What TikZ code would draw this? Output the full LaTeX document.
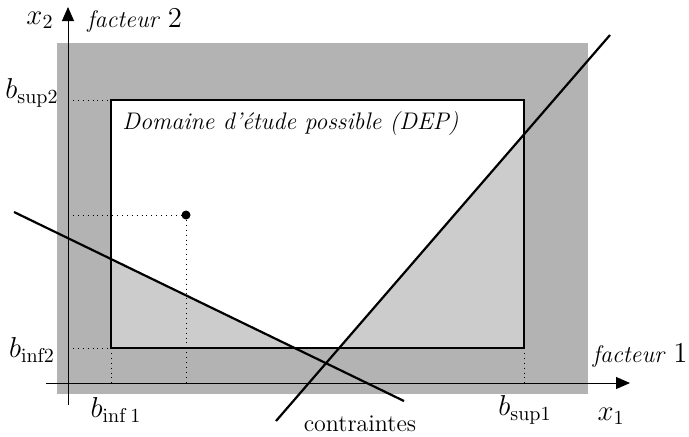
\documentclass[tikz,border=0pt]{standalone}
\usetikzlibrary{arrows.meta}
\definecolor{darkg}{HTML}{B3B3B3}
\definecolor{lightg}{HTML}{CCCCCC}
\begin{document}
\begin{tikzpicture}[x=0.5pt,y=-0.5pt,
  axis/.style={line width=0.5pt,-{Triangle[length=7pt,width=6pt]}},
  guide/.style={dotted,line width=0.45pt},
  constraint/.style={line width=1.1pt},
  lbl/.style={inner sep=0pt,font=\large},
  mlbl/.style={inner sep=0pt,font=\Large}]
\useasboundingbox (0,0) rectangle (689,436);
% background
\fill[darkg] (57,43) rectangle (588,394);
\fill[white] (111,100) rectangle (524,348);
% light regions
\fill[lightg] (111,259) -- (294.5,348) -- (111,348) -- cycle;
\fill[lightg] (339.2,348) -- (524,134.3) -- (524,348) -- cycle;
% guides
\coordinate (P) at (186,215);
\draw[guide] (68,100) -- (111,100);
\draw[guide] (68,348) -- (111,348);
\draw[guide] (68,215) -- (P);
\draw[guide] (P) -- (186,383);
\draw[guide] (111,348) -- (111,383);
\draw[guide] (524,348) -- (524,383);
% DEP rectangle
\draw[line width=1.1pt] (111,100) rectangle (524,348);
% axes
\coordinate (xs) at (46,383); \coordinate (xe) at (630,383);
\coordinate (ys) at (68,405); \coordinate (ye) at (68,7);
\draw[axis] (xs) -- (xe);
\draw[axis] (ys) -- (ye);
% constraints
\coordinate (a1) at (14,212); \coordinate (a2) at (404,401);
\coordinate (b1) at (276,421); \coordinate (b2) at (610,35);
\draw[constraint] (a1) -- (a2);
\draw[constraint] (b1) -- (b2);
% point
\fill (P) circle (4.5);
% labels
\node[mlbl] (x2) at (40,20) {$x_2$};
\node[lbl,anchor=west] (f2) at (87,20) {\textit{facteur} {\Large 2}};
\node[mlbl] (bs2) at (32,93) {$b_{\mathrm{sup2}}$};
\node[mlbl] (bi2) at (32,350) {$b_{\mathrm{inf2}}$};
\node[mlbl] (bi1) at (116,410) {$b_{\mathrm{inf\,1}}$};
\node[mlbl] (bs1) at (525,410) {$b_{\mathrm{sup1}}$};
\node[mlbl] (x1) at (611,416) {$x_1$};
\node[lbl,anchor=east] (f1) at (688,355) {\textit{facteur} {\Large 1}};
\node[lbl] (ct) at (360,424) {contraintes};
\node[lbl,anchor=west] (dep) at (122,124) {\textit{Domaine d'étude possible (DEP)}};
\end{tikzpicture}
\end{document}
